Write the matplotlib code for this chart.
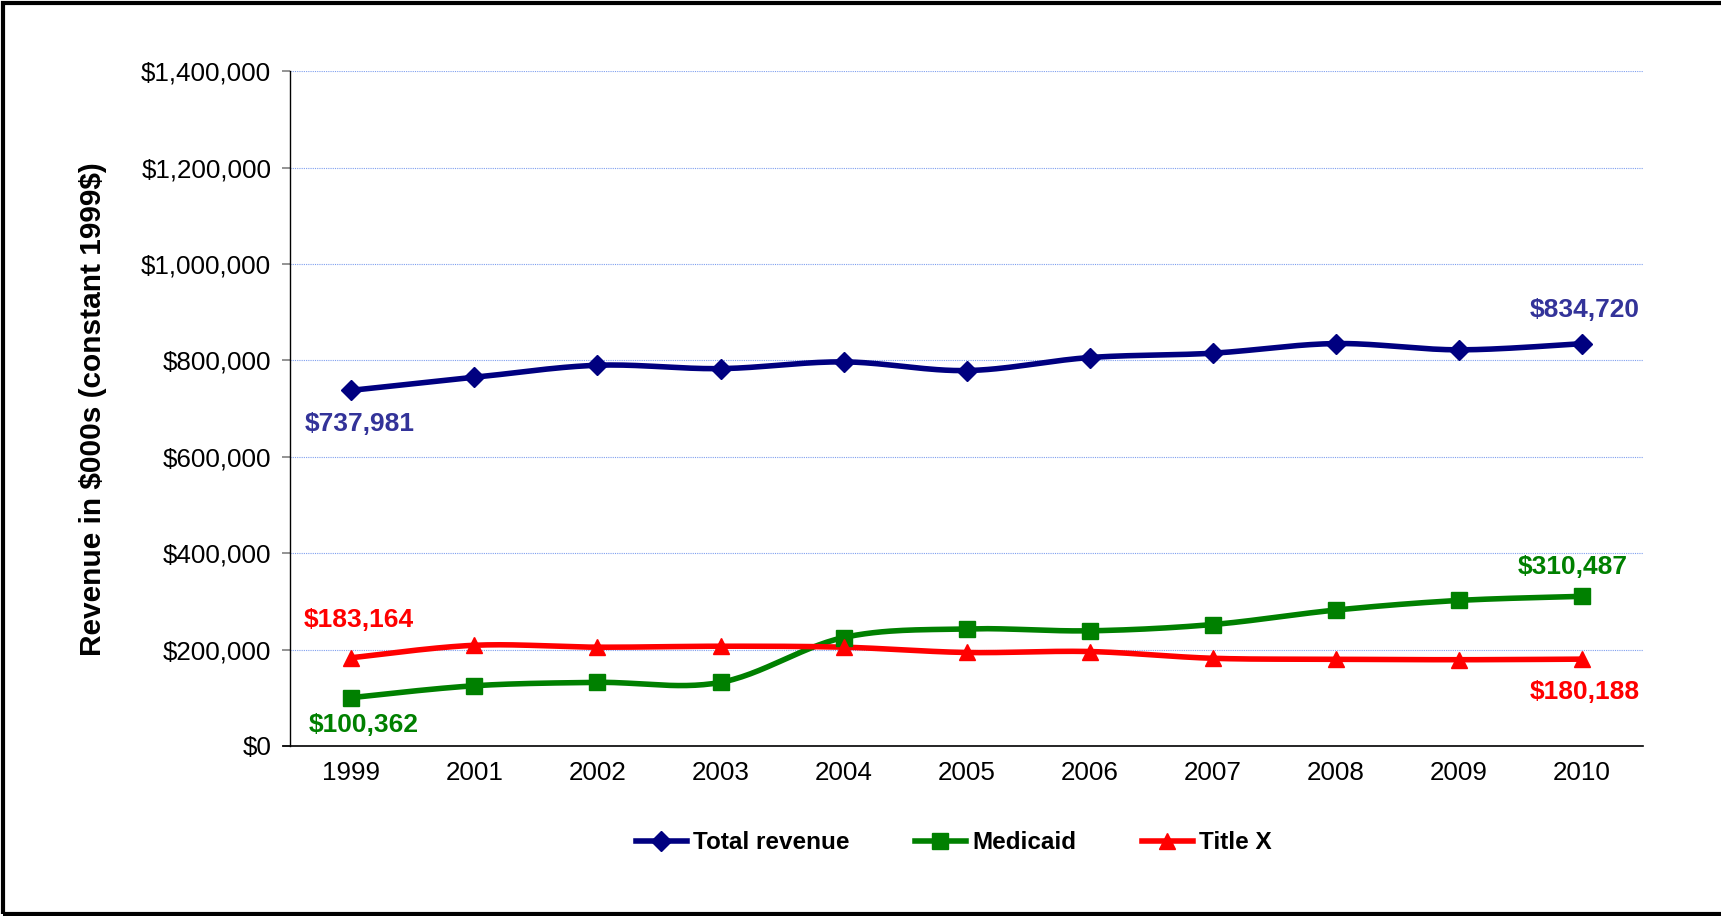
import matplotlib.pyplot as plt
import numpy as np
from matplotlib.lines import Line2D
from matplotlib.patches import Rectangle
from matplotlib.ticker import FuncFormatter

plt.rcParams['font.family'] = ['Liberation Sans', 'DejaVu Sans']

years = ['1999', '2001', '2002', '2003', '2004', '2005', '2006', '2007', '2008', '2009', '2010']
total_revenue = [737981, 765000, 790000, 783000, 797000, 779000, 806000, 815000, 835000, 822000, 834720]
medicaid = [100362, 125000, 132000, 132000, 225000, 243000, 239000, 252000, 282000, 302000, 310487]
title_x = [183164, 209000, 205000, 207000, 205000, 194000, 196000, 182000, 180000, 179000, 180188]


def smooth(y, steps=30):
    """ Cubic Bezier smoothing through every point, like a spreadsheet 'smoothed line'. """
    x = np.arange(len(y), dtype=float)
    y = np.asarray(y, dtype=float)
    pts = np.column_stack([x, y])
    padded = np.vstack([pts[0], pts, pts[-1]])
    out = [pts[0]]
    t = np.linspace(0, 1, steps)[1:, None]
    for i in range(len(pts) - 1):
        p0, p1, p2, p3 = padded[i], padded[i + 1], padded[i + 2], padded[i + 3]
        c1 = p1 + (p2 - p0) / 6.0
        c2 = p2 - (p3 - p1) / 6.0
        seg = ((1 - t) ** 3) * p1 + 3 * ((1 - t) ** 2) * t * c1 + 3 * (1 - t) * t ** 2 * c2 + t ** 3 * p2
        out.extend(seg)
    out = np.array(out)
    return out[:, 0], out[:, 1]


fig = plt.figure(figsize=(17.21, 9.16), dpi=100)
ax = fig.add_axes([0.1685, 0.1856, 0.7862, 0.7366])

series = [
    ("Total revenue", total_revenue, '#000080', 'D', 10),
    ("Medicaid", medicaid, '#008000', 's', 11),
    ("Title X", title_x, '#FF0000', '^', 12),
]

idx = np.arange(len(years))
for name, vals, color, marker, ms in series:
    sx, sy = smooth(vals)
    ax.plot(sx, sy, color=color, lw=4, solid_capstyle='round', zorder=3)
    ax.plot(idx, vals, linestyle='none', marker=marker, ms=ms, color=color, zorder=4)

# end-point value labels
labels = [
    (total_revenue, 0, '#333399', (6, -24)),
    (total_revenue, -1, '#333399', (2, 24)),
    (medicaid, 0, '#008000', (9, -20)),
    (medicaid, -1, '#008000', (-6, 21)),
    (title_x, 0, '#FF0000', (5, 27)),
    (title_x, -1, '#FF0000', (2, -24)),
]
for vals, i, color, off in labels:
    ax.annotate(f"${vals[i]:,}", (idx[i], vals[i]), xytext=off, textcoords='offset points',
                ha='center', va='center', color=color, fontsize=19, fontweight='bold')

ax.set_xlim(-0.5, len(years) - 0.5)
ax.set_ylim(0, 1400000)
ax.set_xticks(idx)
ax.set_xticklabels(years)
ax.set_yticks(np.arange(0, 1400001, 200000))
ax.yaxis.set_major_formatter(FuncFormatter(lambda v, p: f"${int(v):,}"))
ax.tick_params(axis='y', length=5.5, color='#808080', width=1.2, pad=8, labelsize=18.7)
ax.tick_params(axis='x', length=0, pad=11, labelsize=18.7)

ax.grid(axis='y', color='#7F9FEF', linestyle=(0, (1, 1)), linewidth=0.8)
ax.set_axisbelow(True)
for s in ['top', 'right']:
    ax.spines[s].set_visible(False)
ax.spines['left'].set_linewidth(1)
ax.spines['bottom'].set_linewidth(1.2)
ax.spines['bottom'].set_bounds(-0.56, len(years) - 0.5)

ax.set_ylabel("Revenue in \\$000s (constant 1999\\$)", fontsize=21.5, fontweight='bold')
ax.yaxis.set_label_coords(-0.135, 0.5)

handles = [Line2D([0], [0], color=c, lw=4, marker=m, ms=ms) for _, _, c, m, ms in series]
fig.legend(handles, [s[0] for s in series], loc='center', bbox_to_anchor=(0.554, 0.08), ncol=3,
           frameon=False, prop={'size': 17.5, 'weight': 'bold'}, handlelength=2.1,
           handletextpad=0.25, columnspacing=2.7)

# frame around the chart
fig.add_artist(Rectangle((0.0015, 0.002), 1.2, 0.995, transform=fig.transFigure, fill=False,
                         edgecolor='black', linewidth=3, clip_on=False))

fig.savefig('out.png', dpi=100)
